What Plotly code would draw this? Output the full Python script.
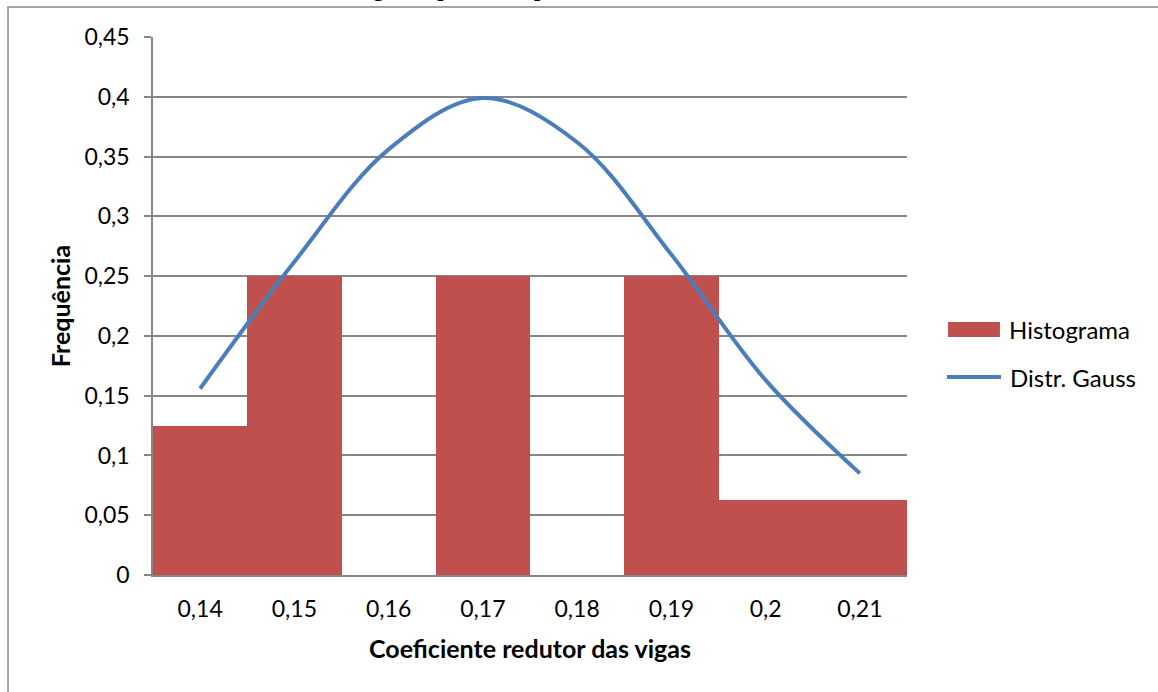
import plotly.graph_objects as go

# dados
coef = ["0,14", "0,15", "0,16", "0,17", "0,18", "0,19", "0,2", "0,21"]
histograma = [0.125, 0.25, 0.0, 0.25, 0.0, 0.25, 0.0625, 0.0625]
gauss = [0.156, 0.262, 0.356, 0.399, 0.362, 0.268, 0.163, 0.085]

font_fam = "Lato, 'Open Sans', sans-serif"
cor_hist = '#C0504D'
cor_gauss = '#4A7EBB'

fig = go.Figure()

# Histograma (barras coladas)
fig.add_trace(go.Bar(
    x=coef, y=histograma,
    marker=dict(color=cor_hist, line=dict(width=0)),
    name='Histograma'
))

# Curva de Gauss suavizada
fig.add_trace(go.Scatter(
    x=coef, y=gauss,
    mode='lines',
    line=dict(color=cor_gauss, width=4, shape='spline', smoothing=1.0),
    name='Distr. Gauss'
))

# moldura externa do gráfico
fig.add_shape(type='rect', xref='paper', yref='paper',
              x0=-0.1923, x1=1.5, y0=-0.4, y1=1.0558,
              line=dict(color='#888888', width=1.5), layer='below')

# legenda desenhada à mão (estilo Excel)
fig.add_shape(type='rect', xref='paper', yref='paper',
              x0=1.0544, x1=1.1233, y0=0.4424, y1=0.4703,
              fillcolor=cor_hist, line=dict(width=0))
fig.add_shape(type='line', xref='paper', yref='paper',
              x0=1.053, x1=1.1247, y0=0.368, y1=0.368,
              line=dict(color=cor_gauss, width=4))
fig.add_annotation(text='Histograma', xref='paper', yref='paper',
                   x=1.1326, y=0.4572, xanchor='left', yanchor='middle',
                   showarrow=False, font=dict(size=24))
fig.add_annotation(text='Distr. Gauss', xref='paper', yref='paper',
                   x=1.134, y=0.368, xanchor='left', yanchor='middle',
                   showarrow=False, font=dict(size=24))

# título (cortado no topo da imagem, como no original)
fig.add_annotation(
    text='<b>Vigas empresa – 1º pavimento</b>',
    xref='paper', yref='paper', x=0.45, y=1.0625, yanchor='bottom',
    showarrow=False,
    font=dict(family='Liberation Serif', size=22, color='black')
)

fig.update_layout(
    width=1158, height=692,
    margin=dict(l=153, r=251, t=37, b=117),
    paper_bgcolor='white', plot_bgcolor='white',
    bargap=0,
    separators=',.',
    font=dict(family=font_fam, size=23, color='black'),
    showlegend=False,
    xaxis=dict(
        type='category',
        showline=True, linecolor='#868686', linewidth=1.5,
        showgrid=False, ticks='', ticklabelstandoff=13,
        title=dict(text='<b>Coeficiente redutor das vigas</b>', standoff=19,
                   font=dict(size=25)),
        tickfont=dict(size=23)
    ),
    yaxis=dict(
        range=[0, 0.45], dtick=0.05,
        showline=True, linecolor='#868686', linewidth=1.5,
        showgrid=True, gridcolor='#868686', gridwidth=1.5,
        ticks='outside', ticklen=7, tickcolor='#868686', tickwidth=1.5,
        ticklabelstandoff=10,
        zeroline=False,
        title=dict(text='<b>Frequência</b>', standoff=7, font=dict(size=25)),
        tickfont=dict(size=23)
    )
)

fig.write_html("out.html",
               config=dict(displayModeBar=False),
               post_script="document.body.style.margin='0';document.body.style.overflow='hidden';")
